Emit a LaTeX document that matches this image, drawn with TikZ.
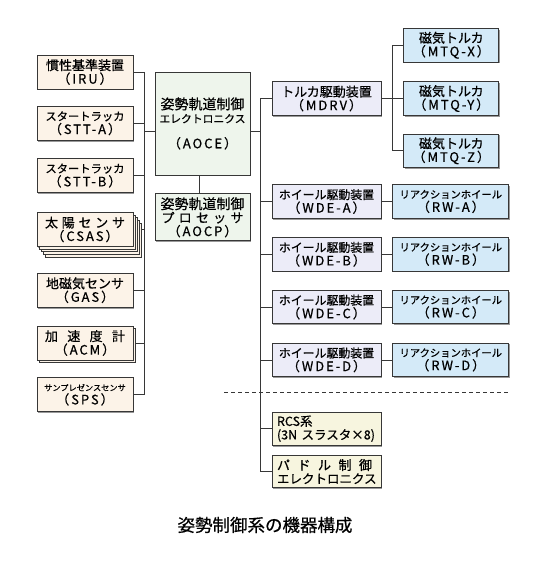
\documentclass[tikz,border=0pt]{standalone}
\usepackage{fontspec}
\setmainfont{Noto Sans CJK JP}[FakeBold=0.6]
\newfontfamily\latsp{Noto Sans CJK JP}[FakeBold=0.6, LetterSpace=15]
\usetikzlibrary{positioning,shadows}
\definecolor{sensfill}{RGB}{252,243,232}
\definecolor{ctrlfill}{RGB}{238,245,236}
\definecolor{drvfill}{RGB}{236,236,248}
\definecolor{actfill}{RGB}{212,234,248}
\definecolor{othfill}{RGB}{247,245,223}
\definecolor{edge}{RGB}{55,55,55}
\newcommand{\fsz}[1]{\fontsize{#1}{13.5}\selectfont}
\newcommand{\spr}[2]{\makebox[#1][s]{#2}}

\begin{document}
\begin{tikzpicture}[x=1pt, y=-1pt, font=\fsz{13}, line width=0.8pt,
  b/.style={draw=edge, fill=#1, align=center, inner sep=0pt, minimum width=96pt, minimum height=34pt,
    drop shadow={shadow xshift=1.3pt, shadow yshift=-1.3pt, fill=black!40, opacity=1}},
  r/.style={minimum width=109pt, minimum height=33.5pt},
  layer/.style={copy shadow={shadow xshift=#1, shadow yshift=-1.3*#1, fill=sensfill, draw=edge, line width=0.5pt}},
  wire/.style={draw=edge}]
\useasboundingbox (0,0) rectangle (540,561);
% sensors
\node[b=sensfill] (iru) at (85,72) {慣性基準装置\\{\latsp （IRU）}};
\node[b=sensfill, below=16.5pt of iru] (stta) {{\fsz{11.3}スタートラッカ}\\{\latsp （STT-A）}};
\node[b=sensfill, below=17.5pt of stta] (sttb) {{\fsz{11.3}スタートラッカ}\\{\latsp （STT-B）}};
\node[b=sensfill, layer=8pt, layer=6pt, layer=4pt, layer=2pt, below=19pt of sttb] (csas) {\spr{80pt}{太\hfil 陽\hfil セ\hfil ン\hfil サ}\\{\latsp （CSAS）}};
\node[b=sensfill, below=26pt of csas] (gas) {地磁気センサ\\{\latsp （GAS）}};
\node[b=sensfill, layer=2pt, below=18pt of gas] (acm) {\spr{80pt}{加\hfil 速\hfil 度\hfil 計}\\{\latsp （ACM）}};
\node[b=sensfill, below=17pt of acm] (sps) {{\fsz{8.2}サンプレゼンスセンサ}\\{\latsp （SPS）}};
% control electronics
\node[b=ctrlfill, minimum width=95pt, minimum height=103pt] (aoce) at (202.5,123.5) {{\fsz{14}姿勢軌道制御}\\{\fsz{10.8}エレクトロニクス}\\[12pt]{\latsp （AOCE）}};
\node[b=ctrlfill, minimum width=95pt, minimum height=47pt, below=18pt of aoce] (aocp) {{\fsz{14}姿勢軌道制御}\\\spr{82pt}{プ\hfil ロ\hfil セ\hfil ッ\hfil サ}\\{\latsp （AOCP）}};
% drivers and actuators
\node[b=drvfill, r] (mdrv) at (326.5,98.5) {トルカ駆動装置\\{\latsp （MDRV）}};
\node[b=actfill, minimum width=95pt, minimum height=33.5pt, right=22pt of mdrv] (mtqy) {磁気トルカ\\{\latsp （MTQ-Y）}};
\node[b=actfill, minimum width=95pt, minimum height=33.5pt, above=19pt of mtqy] (mtqx) {磁気トルカ\\{\latsp （MTQ-X）}};
\node[b=actfill, minimum width=95pt, minimum height=33.5pt, below=18pt of mtqy] (mtqz) {磁気トルカ\\{\latsp （MTQ-Z）}};
\node[b=drvfill, r] (wdea) at (326.5,201.5) {{\fsz{11.9}ホイール駆動装置}\\{\latsp （WDE-A）}};
\node[b=drvfill, r, below=18.5pt of wdea] (wdeb) {{\fsz{11.9}ホイール駆動装置}\\{\latsp （WDE-B）}};
\node[b=drvfill, r, below=18.5pt of wdeb] (wdec) {{\fsz{11.9}ホイール駆動装置}\\{\latsp （WDE-C）}};
\node[b=drvfill, r, below=18.5pt of wdec] (wded) {{\fsz{11.9}ホイール駆動装置}\\{\latsp （WDE-D）}};
\node[b=actfill, minimum width=116pt, minimum height=33.5pt, right=11pt of wdea] (rwa) {{\fsz{10.3}リアクションホイール}\\{\latsp （RW-A）}};
\node[b=actfill, minimum width=116pt, minimum height=33.5pt, right=11pt of wdeb] (rwb) {{\fsz{10.3}リアクションホイール}\\{\latsp （RW-B）}};
\node[b=actfill, minimum width=116pt, minimum height=33.5pt, right=11pt of wdec] (rwc) {{\fsz{10.3}リアクションホイール}\\{\latsp （RW-C）}};
\node[b=actfill, minimum width=116pt, minimum height=33.5pt, right=11pt of wded] (rwd) {{\fsz{10.3}リアクションホイール}\\{\latsp （RW-D）}};
\node[b=othfill, r, align=left, text width=99pt, below=34.5pt of wded] (rcs) {{\fsz{12.5}RCS系\\(3N スラスタ×8)}};
\node[b=othfill, r, minimum height=32.5pt, align=left, text width=99pt, below=9pt of rcs] (pdl) {\spr{95pt}{パ\hfil ド\hfil ル\hfil 制\hfil 御}\\{\fsz{12.5}エレクトロニクス}};
% wiring
\coordinate (lbus) at (144,131);
\coordinate (rbus) at (260,131);
\coordinate (mbus) at (392,98.5);
\draw[wire] (iru.east) -- (iru.east -| lbus); \draw[wire] (stta.east) -- (stta.east -| lbus);
\draw[wire] (sttb.east) -- (sttb.east -| lbus); \draw[wire] ([xshift=9pt]csas.east) -- (csas.east -| lbus);
\draw[wire] (gas.east) -- (gas.east -| lbus); \draw[wire] ([xshift=2pt]acm.east) -- (acm.east -| lbus);
\draw[wire] (sps.east) -- (sps.east -| lbus); \draw[wire] (iru.east -| lbus) -- (sps.east -| lbus);
\draw[wire] (lbus) -- (aoce.west |- lbus);
\draw[wire] ([xshift=-3.5pt]aoce.south) -- ([xshift=-3.5pt]aocp.north);
\draw[wire] (aoce.east |- rbus) -- (rbus);
\draw[wire] (mdrv.west -| rbus) -- (pdl.west -| rbus);
\draw[wire] (mdrv.west) -- (mdrv.west -| rbus); \draw[wire] (wdea.west) -- (wdea.west -| rbus);
\draw[wire] (wdeb.west) -- (wdeb.west -| rbus); \draw[wire] (wdec.west) -- (wdec.west -| rbus);
\draw[wire] (wded.west) -- (wded.west -| rbus); \draw[wire] (rcs.west) -- (rcs.west -| rbus);
\draw[wire] (pdl.west) -- (pdl.west -| rbus);
\draw[wire] (mdrv.east) -- (mbus); \draw[wire] (mtqx.west -| mbus) -- (mtqz.west -| mbus);
\draw[wire] (mtqx.west) -- (mtqx.west -| mbus); \draw[wire] (mtqy.west) -- (mtqy.west -| mbus);
\draw[wire] (mtqz.west) -- (mtqz.west -| mbus);
\draw[wire] (wdea) -- (rwa); \draw[wire] (wdeb) -- (rwb); \draw[wire] (wdec) -- (rwc); \draw[wire] (wded) -- (rwd);
\coordinate (sep1) at (224,392);
\coordinate (sep2) at (508,392);
\draw[wire, dash pattern=on 4pt off 3pt] (sep1) -- (sep2);
\node[font=\fsz{17.5}] (title) at (265,525) {姿勢制御系の機器構成};
\end{tikzpicture}
\end{document}
